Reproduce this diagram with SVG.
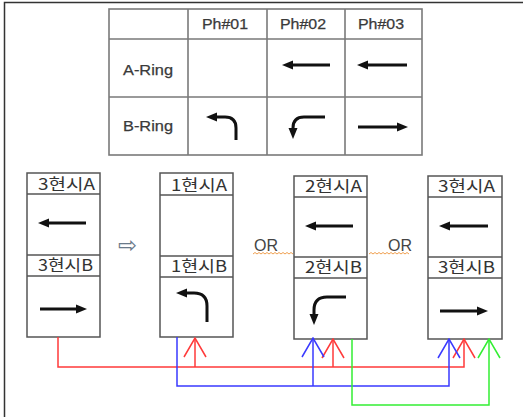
<svg xmlns="http://www.w3.org/2000/svg" width="523" height="417" viewBox="0 0 523 417">
<style>
.frame{stroke:#333;stroke-width:1.5;fill:none}
.tbl{stroke:#7a7a7a;stroke-width:1.6;fill:none}
.th{font-family:"Liberation Sans",Arial,sans-serif;font-size:14px;fill:#3a3a3a;stroke:#3a3a3a;stroke-width:0.25}
.box{stroke:#555;stroke-width:1.5;fill:#fff}
.div{stroke:#555;stroke-width:1.5}
.hd{font-family:"Noto Sans CJK KR",sans-serif;font-size:16px;fill:#333}
.arr{stroke:#111;stroke-width:3;fill:none;marker-end:url(#ah)}
.or{font-family:"Liberation Sans",Arial,sans-serif;font-size:16px;fill:#444}
.sq{stroke:#f0a050;stroke-width:1;fill:none}
.red{stroke:#ff3a3a;stroke-width:1.5;fill:none}
.blue{stroke:#3a3aff;stroke-width:1.5;fill:none}
.green{stroke:#33ee33;stroke-width:1.5;fill:none}
</style>
<defs>
<marker id="ah" viewBox="0 -5 11 10" refX="1" refY="0" markerWidth="11" markerHeight="10" markerUnits="userSpaceOnUse" orient="auto">
<path d="M0,-4.5 L11,0 L0,4.5 z" fill="#111"/>
</marker>
<marker id="vr" viewBox="-20 -12 21 24" refX="0" refY="0" markerWidth="21" markerHeight="24" markerUnits="userSpaceOnUse" orient="auto">
<path d="M-19,-11 L0,0 L-19,11" fill="none" stroke="#ff3a3a" stroke-width="1.5"/>
</marker>
<marker id="vb" viewBox="-20 -12 21 24" refX="0" refY="0" markerWidth="21" markerHeight="24" markerUnits="userSpaceOnUse" orient="auto">
<path d="M-19,-11 L0,0 L-19,11" fill="none" stroke="#3a3aff" stroke-width="1.5"/>
</marker>
<marker id="vg" viewBox="-20 -12 21 24" refX="0" refY="0" markerWidth="21" markerHeight="24" markerUnits="userSpaceOnUse" orient="auto">
<path d="M-19,-11 L0,0 L-19,11" fill="none" stroke="#33ee33" stroke-width="1.5"/>
</marker>
</defs>
<rect width="523" height="417" fill="#fff"/>
<path class="frame" d="M4.5,417 V2.5 H523"/>

<g id="table">
<rect class="tbl" x="109" y="9" width="313" height="146"/>
<path class="tbl" d="M109,39 H422 M109,97 H422 M188,9 V155 M267,9 V155 M345,9 V155"/>
<text class="th" x="202" y="29" textLength="46" lengthAdjust="spacingAndGlyphs">Ph#01</text>
<text class="th" x="280" y="29" textLength="46" lengthAdjust="spacingAndGlyphs">Ph#02</text>
<text class="th" x="358" y="29" textLength="46" lengthAdjust="spacingAndGlyphs">Ph#03</text>
<text class="th" x="123" y="75" textLength="50" lengthAdjust="spacingAndGlyphs">A-Ring</text>
<text class="th" x="123" y="131" textLength="50" lengthAdjust="spacingAndGlyphs">B-Ring</text>
<path class="arr" d="M330,65 H292"/>
<path class="arr" d="M407,65 H367"/>
<path class="arr" d="M236,140 V128 Q236,117 225,117 H216"/>
<path class="arr" d="M325,117 H304 Q293,117 293,128 V129"/>
<path class="arr" d="M358,127 H398"/>
</g>

<g id="box1">
<rect class="box" x="27" y="173" width="73" height="164"/>
<path class="div" d="M27,194 H100 M27,255 H100 M27,276 H100"/>
<text class="hd" x="38" y="190" textLength="57" lengthAdjust="spacingAndGlyphs">3현시A</text>
<text class="hd" x="38" y="271" textLength="55" lengthAdjust="spacingAndGlyphs">3현시B</text>
<path class="arr" d="M86,223 H48"/>
<path class="arr" d="M40,309 H77"/>
</g>

<g id="box2">
<rect class="box" x="160" y="173" width="73" height="164"/>
<path class="div" d="M160,195 H233 M160,256 H233 M160,277 H233"/>
<text class="hd" x="171" y="191" textLength="56" lengthAdjust="spacingAndGlyphs">1현시A</text>
<text class="hd" x="171" y="272" textLength="56" lengthAdjust="spacingAndGlyphs">1현시B</text>
<path class="arr" d="M207,322 V306 Q207,293 194,293 H186"/>
</g>

<g id="box3">
<rect class="box" x="294" y="176" width="73" height="163"/>
<path class="div" d="M294,197 H367 M294,257 H367 M294,278 H367"/>
<text class="hd" x="305" y="192" textLength="57" lengthAdjust="spacingAndGlyphs">2현시A</text>
<text class="hd" x="305" y="273" textLength="57" lengthAdjust="spacingAndGlyphs">2현시B</text>
<path class="arr" d="M353,226 H315"/>
<path class="arr" d="M346,297 H327 Q314,297 314,310 V315"/>
</g>

<g id="box4">
<rect class="box" x="428" y="176" width="74" height="163"/>
<path class="div" d="M428,197 H502 M428,257 H502 M428,278 H502"/>
<text class="hd" x="438" y="192" textLength="57" lengthAdjust="spacingAndGlyphs">3현시A</text>
<text class="hd" x="438" y="273" textLength="57" lengthAdjust="spacingAndGlyphs">3현시B</text>
<path class="arr" d="M488,226 H449"/>
<path class="arr" d="M440,311 H478"/>
</g>

<g id="labels">
<text x="118" y="253" style="font-family:'DejaVu Sans',sans-serif;font-size:23px;fill:#6a7a8a">⇨</text>
<text class="or" x="254" y="251">OR</text>
<text class="or" x="388" y="251">OR</text>
<path class="sq" d="M253,254 l2,-1.5 l2,1.5 l2,-1.5 l2,1.5 l2,-1.5 l2,1.5 l2,-1.5 l2,1.5 l2,-1.5 l2,1.5 l2,-1.5 l2,1.5 l2,-1.5 l2,1.5 l2,-1.5 l2,1.5 l2,-1.5 l2,1.5 l2,-1.5 l2,1.5"/>
<path class="sq" d="M369,254 l2,-1.5 l2,1.5 l2,-1.5 l2,1.5 l2,-1.5 l2,1.5 l2,-1.5 l2,1.5 l2,-1.5 l2,1.5 l2,-1.5 l2,1.5 l2,-1.5 l2,1.5 l2,-1.5 l2,1.5 l2,-1.5 l2,1.5 l2,-1.5 l2,1.5"/>
</g>

<g id="connectors">
<path class="red" d="M58,337 V367 H464 V339" marker-end="url(#vr)"/>
<path class="red" d="M195,367 V338" marker-end="url(#vr)"/>
<path class="red" d="M333,367 V339" marker-end="url(#vr)"/>
<path class="blue" d="M177,337 V386 H449 V339" marker-end="url(#vb)"/>
<path class="blue" d="M313,386 V338" marker-end="url(#vb)"/>
<path class="green" d="M352,339 V405 H489 V339" marker-end="url(#vg)"/>
</g>
</svg>
